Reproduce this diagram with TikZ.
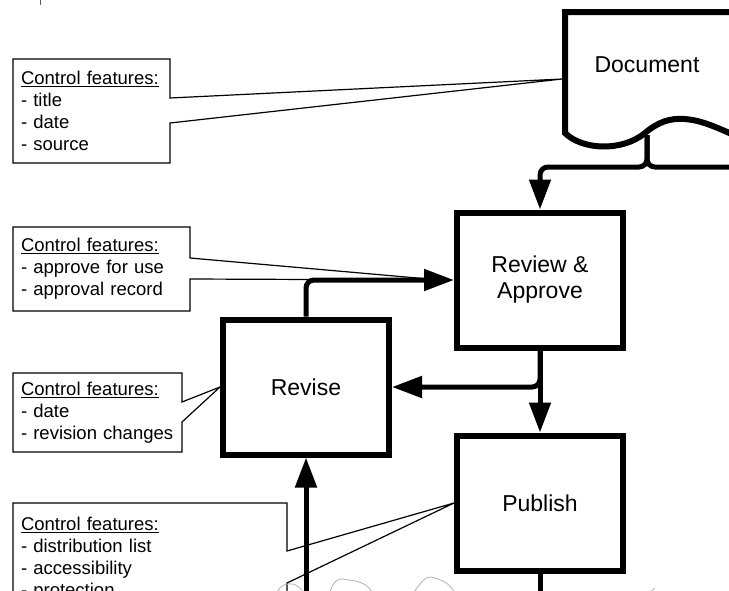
\documentclass[tikz,border=0pt]{standalone}
\usepackage{fontspec}
\setmainfont{Liberation Sans}
\usetikzlibrary{arrows.meta,positioning}

\newcommand\notefont{\fontsize{18.5}{22}\selectfont}
\newcommand\boxfont{\fontsize{23}{26}\selectfont}

\begin{document}
\begin{tikzpicture}[x=1pt,y=-1pt,>={Triangle[length=30pt,width=21pt]},
                    node distance=223pt,
                    stepbox/.style={draw,line width=6pt,minimum width=166pt,
                                    minimum height=135pt,align=center,font=\boxfont},
                    note/.style={anchor=north west,inner xsep=8pt,inner ysep=0pt,
                                 outer sep=0pt,align=left,font=\notefont},
                    noteline/.style={line width=1.2pt},
                    flow/.style={->,line width=5pt,rounded corners=8pt},
                    scribble/.style={gray!60,line width=0.8pt}]

  \useasboundingbox (0,0) rectangle (729,590);
  \clip (0,0) rectangle (729,590);

  % steps
  \node[stepbox]         (review)  at (540,280)     {Review \&\\Approve};
  \node[stepbox]         (publish) [below of=review] {Publish};
  \node[stepbox]         (revise)  at (306,387)     {Revise};

  % document, cut by the right edge
  \node[font=\boxfont]   (doc)     at (647,65)      {Document};
  \draw[line width=6pt] (745,12) -- (565,12) -- (565,133)
        .. controls (582,150) and (622,152) .. (645,133)
        .. controls (658,122) and (670,118) .. (684,119)
        .. controls (702,120) and (718,128) .. (745,140);

  \coordinate (doc-in)    at (562,79);
  \coordinate (doc-out)   at (647,135);
  \coordinate (offright)  at (745,167);
  \coordinate (rev-in)    at (440,280);
  \coordinate (offbottom) at (306,600);
  \coordinate (pub-out)   at (540,600);

  % flow
  \draw[flow]   (doc-out) -- ++(0,32) -| (review.north);
  \draw[flow,-] (doc-out) |- (offright);
  \draw[flow]   (review) -- (publish);
  \draw[flow]   (review.south) |- (revise.east);
  \draw[flow]   (revise.north) |- (review.west);
  \draw[flow]   (offbottom) -- (revise.south);
  \draw[flow,-] (publish.south) -- (pub-out);
  \draw[flow,-] (528,593) -- (552,593);

  % control features
  \node[note,minimum width=157pt,minimum height=104pt,text width=141pt] (note1) at (13,59)
       {\underline{Control features:}\\- title\\- date\\- source};
  \node[note,minimum width=177pt,minimum height=84pt,text width=161pt]  (note2) at (13,227)
       {\underline{Control features:}\\- approve for use\\- approval record};
  \node[note,minimum width=169pt,minimum height=79pt,text width=153pt]  (note3) at (13,373)
       {\underline{Control features:}\\- date\\- revision changes};
  \node[note,minimum width=274pt,minimum height=112pt,text width=258pt] (note4) at (13,503)
       {\underline{Control features:}\\- distribution list\\- accessibility\\- protection};

  \draw[noteline] (note1.south east) -- (note1.east |- 0,123) -- (doc-in)
        -- (note1.east |- 0,98) -- (note1.north east) -- (note1.north west)
        -- (note1.south west) -- cycle;
  \draw[noteline] (note2.south east) -- (note2.east |- 0,279) -- (rev-in)
        -- (note2.east |- 0,258) -- (note2.north east) -- (note2.north west)
        -- (note2.south west) -- cycle;
  \draw[noteline] (note3.south east) -- (note3.east |- 0,422) -- (revise.west)
        -- (note3.east |- 0,402) -- (note3.north east) -- (note3.north west)
        -- (note3.south west) -- cycle;
  \draw[noteline] (note4.south east) -- (note4.east |- 0,583) -- (publish.west)
        -- (note4.east |- 0,551) -- (note4.north east) -- (note4.north west)
        -- (note4.south west) -- cycle;

  % faint outlines at the lower edge
  \draw[scribble] (277,592) .. controls (282,582) and (296,580) .. (303,592);
  \draw[scribble] (330,592) .. controls (333,582) and (338,578) .. (343,579)
                  .. controls (352,581) and (365,580) .. (372,592);
  \draw[scribble] (414,592) .. controls (420,583) and (426,576) .. (431,577)
                  .. controls (440,579) and (450,583) .. (454,592);
  \draw[scribble] (650,592) -- (655,588);
  \draw[gray!70!black,line width=1.5pt] (40.5,0) -- (40.5,5);
\end{tikzpicture}
\end{document}
